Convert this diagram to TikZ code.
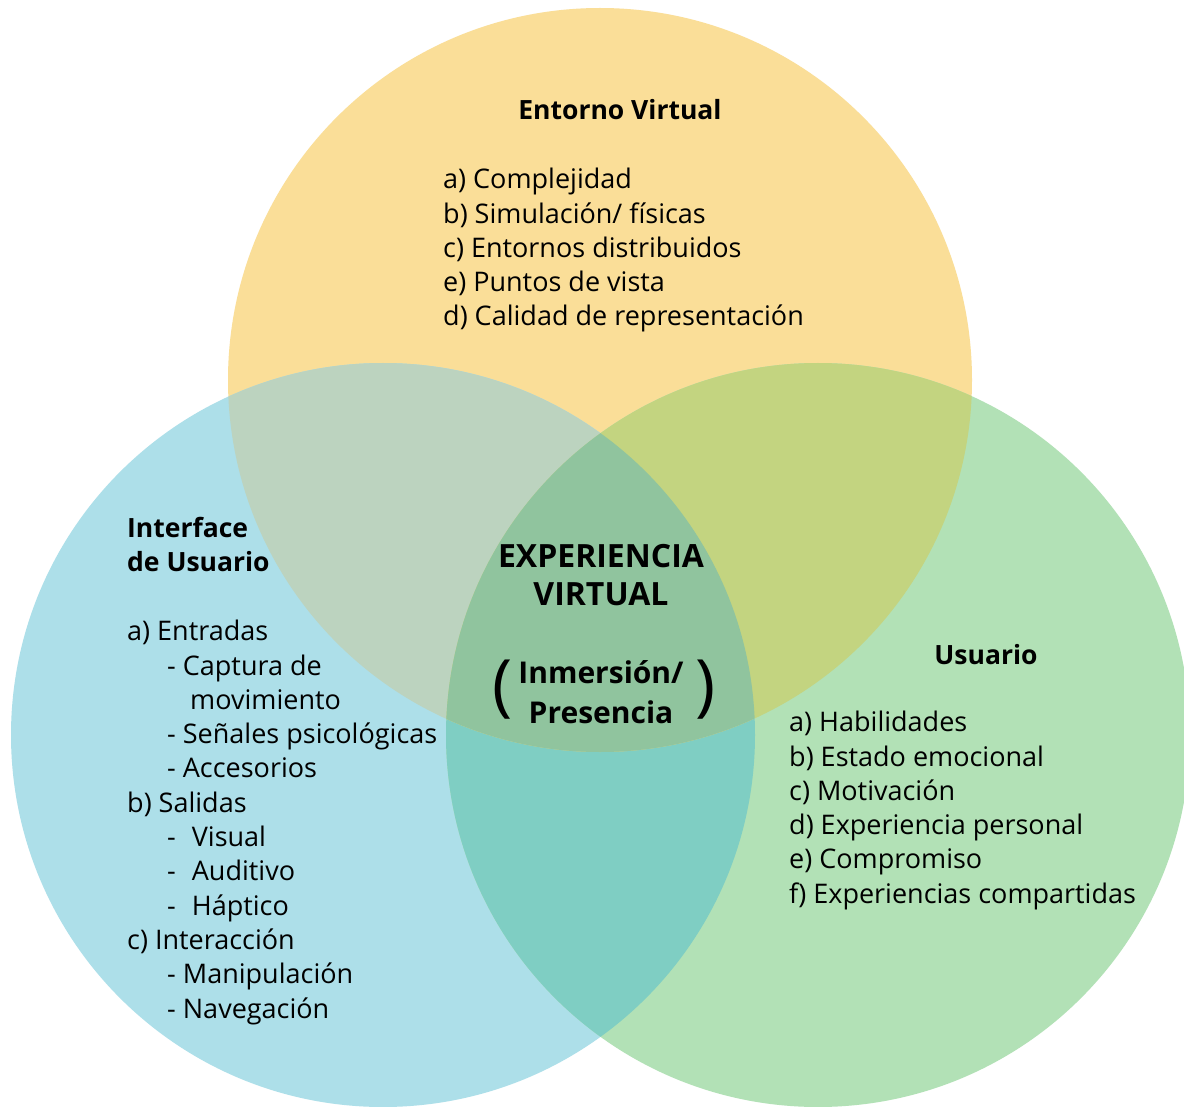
\documentclass[tikz,border=0pt]{standalone}
\usepackage{fontspec}
\setmainfont{Open Sans}
\definecolor{envyellow}{HTML}{FADE98}
\definecolor{uiblue}{HTML}{ADDFE9}
\definecolor{usergreen}{HTML}{B2E1B6}
\definecolor{yellowblue}{HTML}{BCD3BF}
\definecolor{yellowgreen}{HTML}{C3D480}
\definecolor{bluegreen}{HTML}{7FCEC3}
\definecolor{allthree}{HTML}{90C49E}

\begin{document}
\begin{tikzpicture}[x={(1pt, 0pt)}, y={(0pt, -1pt)}]
  \tikzstyle{item}=[inner sep=0pt, align=left, anchor=north west, font=\fontsize{27}{34.3}\selectfont]
  \tikzstyle{head}=[inner sep=0pt, align=center, font=\fontsize{26.5}{34.3}\selectfont\bfseries]
  \tikzstyle{bighead}=[inner sep=0pt, align=center, font=\fontsize{32}{38}\selectfont\bfseries]
  \tikzstyle{paren}=[inner sep=0pt, font=\fontsize{68}{70}\selectfont]

\useasboundingbox (0, 0) rectangle (1184, 1107);
\fill[white] (0, 0) rectangle (1184, 1107);

% the three sets
\fill[envyellow] (600, 380) circle[radius=372pt];
\fill[uiblue] (383, 735) circle[radius=372pt];
\fill[usergreen] (818, 735) circle[radius=372pt];

% overlaps
\begin{scope}
  \clip (383, 735) circle[radius=372pt];
  \fill[bluegreen] (818, 735) circle[radius=372pt];
\end{scope}
\begin{scope}
  \clip (600, 380) circle[radius=372pt];
  \fill[yellowblue] (383, 735) circle[radius=372pt];
  \fill[yellowgreen] (818, 735) circle[radius=372pt];
  \clip (383, 735) circle[radius=372pt];
  \fill[allthree] (818, 735) circle[radius=372pt];
\end{scope}

\node[head] (envtitle) at (620, 110) {Entorno Virtual};
\node[item] (envlist) at (443, 168) {a) Complejidad\\
b) Simulación/ físicas\\
c) Entornos distribuidos\\
e) Puntos de vista\\
d) Calidad de representación};

\node[head, align=left, anchor=north west] (uititle) at (127, 517) {Interface\\de Usuario};
\node[item] (uilist) at (127, 620) {a) Entradas\\
\hspace*{40pt}- Captura de\\
\hspace*{63pt}movimiento\\
\hspace*{40pt}- Señales psicológicas\\
\hspace*{40pt}- Accesorios\\
b) Salidas\\
\hspace*{40pt}-\hspace*{16pt}Visual\\
\hspace*{40pt}-\hspace*{16pt}Auditivo\\
\hspace*{40pt}-\hspace*{16pt}Háptico\\
c) Interacción\\
\hspace*{40pt}- Manipulación\\
\hspace*{40pt}- Navegación};

\node[head] (usertitle) at (986, 655) {Usuario};
\node[item] (userlist) at (789, 711) {a) Habilidades\\
b) Estado emocional\\
c) Motivación\\
d) Experiencia personal\\
e) Compromiso\\
f) Experiencias compartidas};

\node[bighead] (core) at (601, 575) {EXPERIENCIA\\VIRTUAL};
\node[head, font=\fontsize{30}{40}\selectfont\bfseries] (coresub) at (601, 692) {Inmersión/\\Presencia};
\node[paren] (lparen) at (503, 690) {(};
\node[paren] (rparen) at (706, 690) {)};

\end{tikzpicture}
\end{document}
